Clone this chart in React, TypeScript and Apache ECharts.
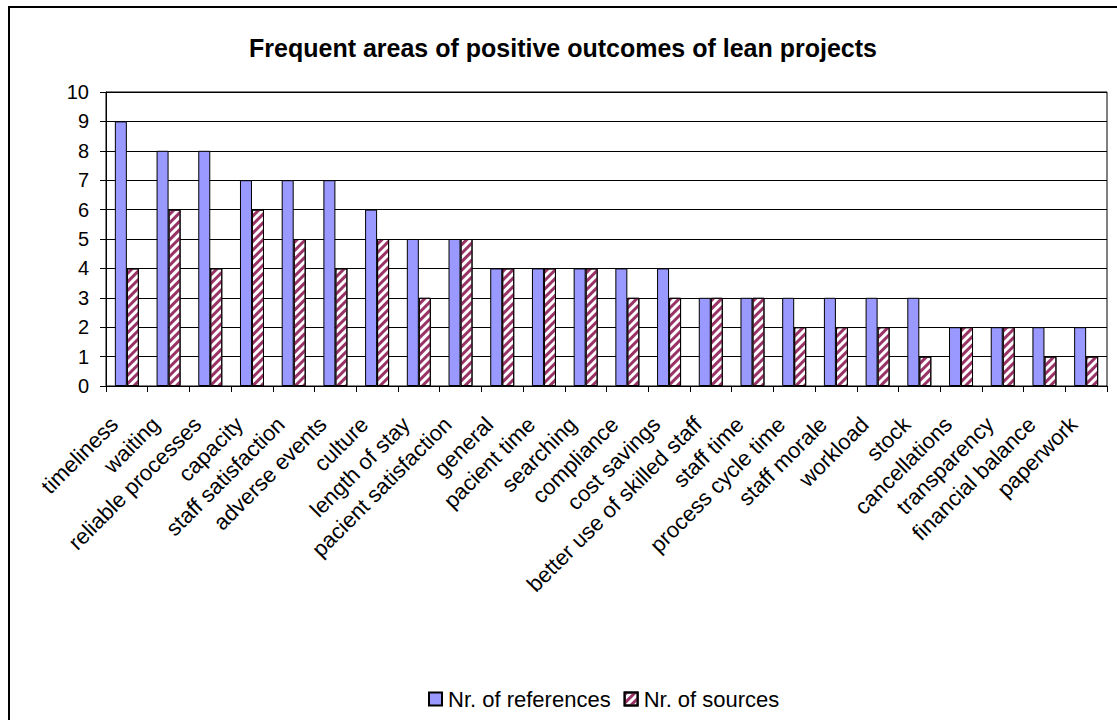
import React, { useEffect, useRef } from "react";
import * as echarts from "echarts";

const categories = [
  "timeliness", "waiting", "reliable processes", "capacity", "staff satisfaction",
  "adverse events", "culture", "length of stay", "pacient satisfaction", "general",
  "pacient time", "searching", "compliance", "cost savings", "better use of skilled staff",
  "staff time", "process cycle time", "staff morale", "workload", "stock",
  "cancellations", "transparency", "financial balance", "paperwork",
];
const nrReferences = [9, 8, 8, 7, 7, 7, 6, 5, 5, 4, 4, 4, 4, 4, 3, 3, 3, 3, 3, 3, 2, 2, 2, 2];
const nrSources = [4, 6, 4, 6, 5, 4, 5, 3, 5, 4, 4, 4, 3, 3, 3, 3, 2, 2, 2, 1, 2, 2, 1, 1];
const yTicks = [0, 1, 2, 3, 4, 5, 6, 7, 8, 9, 10];

const FONT = "Liberation Sans, Arial, sans-serif";

export default function App() {
  const ref = useRef<HTMLDivElement>(null);
  useEffect(() => {
    document.body.style.margin = "0";
    const chart = echarts.init(ref.current!, undefined, { renderer: "svg" });
    chart.setOption({
      animation: false,
      backgroundColor: "#ffffff",
      title: {
        text: "Frequent areas of positive outcomes of lean projects",
        left: 558,
        textAlign: "center",
        top: 30,
        textStyle: { fontFamily: FONT, fontSize: 25, fontWeight: "bold", color: "#000" },
      },
      graphic: [
        {
          type: "rect",
          shape: { x: 9, y: 7, width: 1130, height: 740 },
          style: { fill: "none", stroke: "#000", lineWidth: 2 },
          silent: true,
        },
      ],
      legend: {
        left: 423,
        top: 683,
        itemWidth: 13,
        itemHeight: 13,
        itemGap: 13,
        icon: "rect",
        textStyle: { fontFamily: FONT, fontSize: 22, color: "#000", padding: [0, 0, 0, 1] },
        data: ["Nr. of references", "Nr. of sources"],
      },
      grid: {
        left: 106, top: 92, right: 10, bottom: 334,
        show: true, borderColor: "#000", borderWidth: 1, backgroundColor: "transparent",
      },
      xAxis: {
        type: "category",
        data: categories,
        axisLine: { lineStyle: { color: "#000", width: 1 } },
        axisTick: { show: true, alignWithLabel: false, length: 6, lineStyle: { color: "#000" } },
        axisLabel: {
          interval: 0,
          rotate: 45,
          margin: 22,
          padding: [0, 18, 0, 0],
          fontFamily: FONT,
          fontSize: 22,
          color: "#000",
        },
      },
      yAxis: {
        type: "value",
        min: yTicks[0],
        max: yTicks[yTicks.length - 1],
        interval: 1,
        axisLine: { show: true, lineStyle: { color: "#000", width: 1 } },
        axisTick: { show: true, length: 6, lineStyle: { color: "#000" } },
        axisLabel: { fontFamily: FONT, fontSize: 20, color: "#000", margin: 17 },
        splitLine: { lineStyle: { color: "#000", width: 1 } },
      },
      series: [
        {
          name: "Nr. of references",
          type: "bar",
          data: nrReferences,
          barWidth: 12,
          barGap: "0%",
          itemStyle: { color: "#9999FF", borderColor: "#000", borderWidth: 1 },
        },
        {
          name: "Nr. of sources",
          type: "bar",
          data: nrSources,
          barWidth: 12,
          itemStyle: {
            color: "#ffffff",
            borderColor: "#000",
            borderWidth: 1,
            decal: {
              symbol: "rect",
              symbolSize: 1,
              dashArrayX: [[1, 0]],
              dashArrayY: [3, 3],
              rotation: -Math.PI / 4,
              color: "#993366",
            },
          },
        },
      ],
    });
    return () => chart.dispose();
  }, []);
  return <div ref={ref} style={{ width: 1117, height: 720 }} />;
}
